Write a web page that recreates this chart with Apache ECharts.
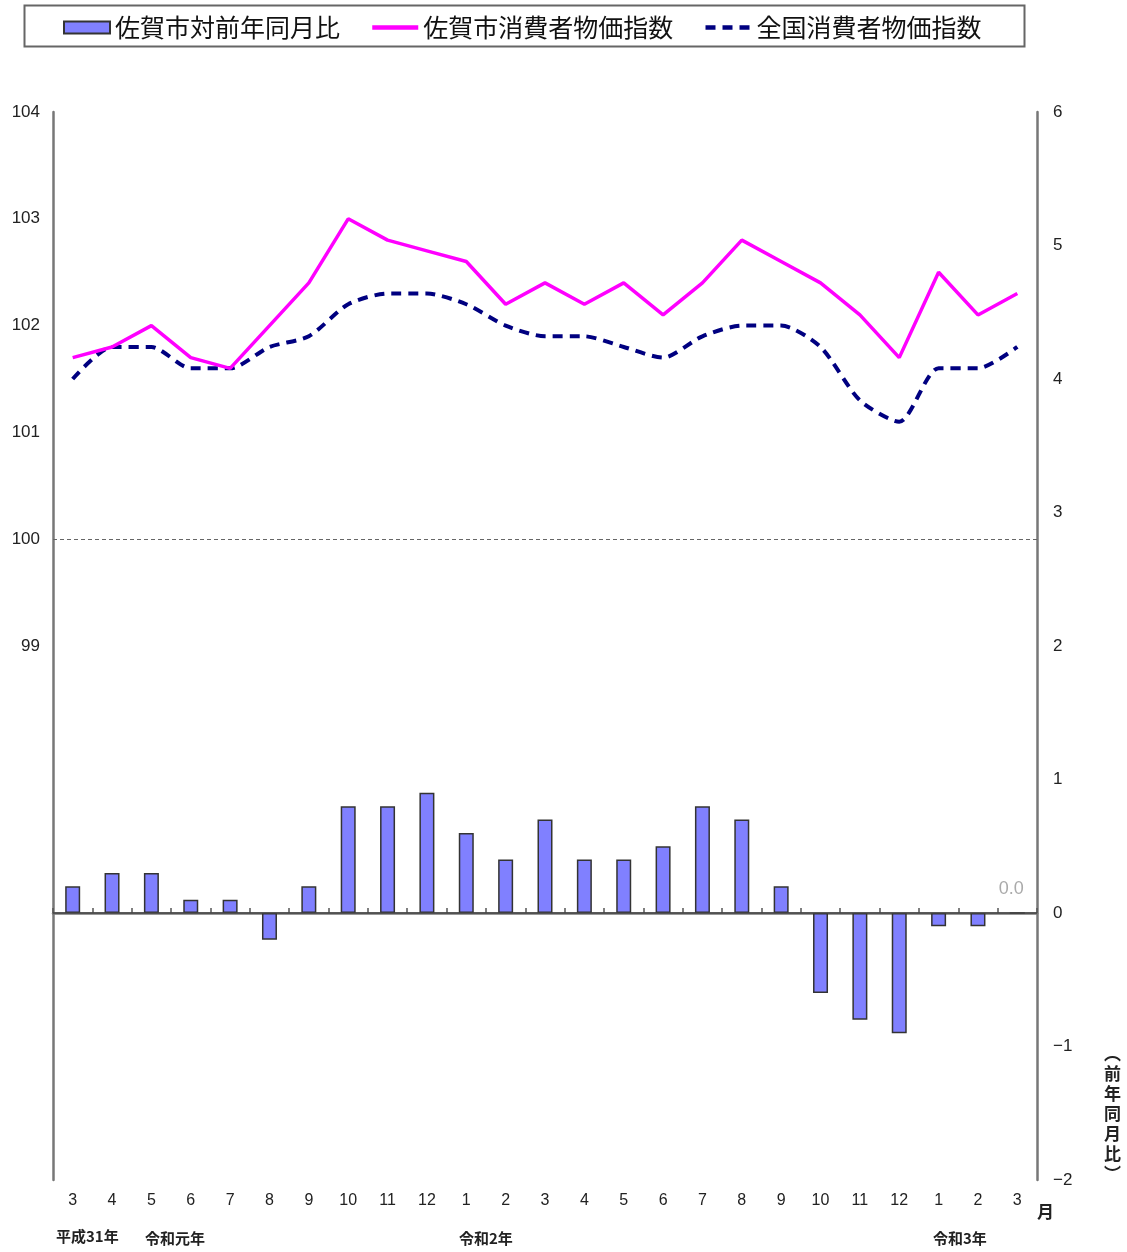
<!DOCTYPE html>
<html>
<head>
<meta charset="utf-8">
<script src="https://cdn.jsdelivr.net/npm/echarts@6/dist/echarts.min.js"></script>
<style>
html,body{margin:0;padding:0;background:#fff;}
#chart{width:1127px;height:1252px;}
</style>
</head>
<body>
<div id="chart"></div>
<script>
const months = ['3','4','5','6','7','8','9','10','11','12','1','2','3','4','5','6','7','8','9','10','11','12','1','2','3'];
const sagaYoY = [0.2,0.3,0.3,0.1,0.1,-0.2,0.2,0.8,0.8,0.9,0.6,0.4,0.7,0.4,0.4,0.5,0.8,0.7,0.2,-0.6,-0.8,-0.9,-0.1,-0.1,0.0];
const sagaCPI = [101.7,101.8,102.0,101.7,101.6,102.0,102.4,103.0,102.8,102.7,102.6,102.2,102.4,102.2,102.4,102.1,102.4,102.8,102.6,102.4,102.1,101.7,102.5,102.1,102.3];
const nationalCPI = [101.5,101.8,101.8,101.6,101.6,101.8,101.9,102.2,102.3,102.3,102.2,102.0,101.9,101.9,101.8,101.7,101.9,102.0,102.0,101.8,101.3,101.1,101.6,101.6,101.8];
const seriesNames = ['佐賀市対前年同月比','佐賀市消費者物価指数','全国消費者物価指数'];
const eraLabels = ['平成31年','令和元年','令和2年','令和3年'];

const FONT = '"Noto Sans CJK JP", "Noto Sans", sans-serif';
const NUMFONT = 'Arial, "Liberation Sans", sans-serif';
const chart = echarts.init(document.getElementById('chart'));

const barData = sagaYoY.map((v, i) => i === sagaYoY.length - 1
  ? {value: v, label: {show: true, position: 'top', distance: 14, offset: [-6, 0], formatter: p => p.value.toFixed(1), color: '#aaa', fontSize: 18, fontFamily: NUMFONT}}
  : v);

chart.setOption({
  animation: false,
  backgroundColor: '#fff',
  textStyle: {fontFamily: FONT},
  legend: {
    left: 58, top: 10,
    itemWidth: 46, itemHeight: 12, itemGap: 30,
    textStyle: {fontSize: 25, color: '#111', fontFamily: FONT},
    data: [
      {name: seriesNames[0], icon: 'rect'},
      {name: seriesNames[1], itemStyle: {opacity: 0}, lineStyle: {width: 4.5}},
      {name: seriesNames[2], itemStyle: {opacity: 0}, lineStyle: {width: 4.5}}
    ]
  },
  grid: {left: 53, right: 90, top: 112, bottom: 72},
  xAxis: {
    type: 'category',
    data: months,
    boundaryGap: true,
    axisLine: {lineStyle: {color: '#777', width: 2.5}},
    axisTick: {show: true, inside: true, length: 5, alignWithLabel: false, lineStyle: {color: '#555', width: 1.5}},
    axisLabel: {color: '#222', fontSize: 16, margin: 13, fontFamily: NUMFONT},
    splitLine: {show: false}
  },
  yAxis: [
    {
      type: 'value', min: 94, max: 104, interval: 1, position: 'left',
      axisLine: {show: true, lineStyle: {color: '#777', width: 2.5}},
      axisTick: {show: false},
      splitLine: {show: false},
      axisLabel: {color: '#222', fontSize: 17, margin: 13, fontFamily: NUMFONT,
        formatter: v => v >= 99 ? String(v) : ''}
    },
    {
      type: 'value', min: -2, max: 6, interval: 1, position: 'right',
      axisLine: {show: true, lineStyle: {color: '#777', width: 2.5}},
      axisTick: {show: false},
      splitLine: {show: false},
      axisLabel: {color: '#222', fontSize: 17, margin: 16, fontFamily: NUMFONT,
        formatter: v => String(v).replace('-', '−')}
    }
  ],
  series: [
    {
      name: seriesNames[0], type: 'bar', yAxisIndex: 1,
      data: barData, barWidth: 15,
      itemStyle: {color: '#8080ff', borderColor: '#333', borderWidth: 1.5},
      markLine: {
        silent: true, symbol: 'none', label: {show: false},
        lineStyle: {color: '#444', width: 1.5, type: 'solid'},
        data: [{yAxis: 0}]
      },
      z: 2
    },
    {
      name: seriesNames[1], type: 'line', yAxisIndex: 0,
      data: sagaCPI, symbol: 'none',
      lineStyle: {color: '#ff00ff', width: 3.5},
      itemStyle: {color: '#ff00ff'},
      markLine: {
        silent: true, symbol: 'none', label: {show: false},
        lineStyle: {color: '#666', width: 1.2, type: [4, 3]},
        data: [{yAxis: 100}]
      },
      z: 4
    },
    {
      name: seriesNames[2], type: 'line', yAxisIndex: 0,
      data: nationalCPI, symbol: 'none', smooth: 0.25,
      lineStyle: {color: '#000080', width: 4, type: [10, 7]},
      itemStyle: {color: '#000080'},
      z: 3
    }
  ],
  graphic: [
    {type: 'rect', left: 22, top: 3, shape: {width: 1000, height: 41},
      style: {fill: 'none', stroke: '#666', lineWidth: 2}, z: 100},
    {type: 'text', left: 56, top: 1229, style: {text: eraLabels[0], fontSize: 15, fontWeight: 'bold', fill: '#222', fontFamily: FONT}},
    {type: 'text', left: 145, top: 1231, style: {text: eraLabels[1], fontSize: 15, fontWeight: 'bold', fill: '#222', fontFamily: FONT}},
    {type: 'text', left: 459, top: 1231, style: {text: eraLabels[2], fontSize: 15, fontWeight: 'bold', fill: '#222', fontFamily: FONT}},
    {type: 'text', left: 933, top: 1231, style: {text: eraLabels[3], fontSize: 15, fontWeight: 'bold', fill: '#222', fontFamily: FONT}},
    {type: 'text', left: 1037, top: 1203, style: {text: '月', fontSize: 17, fontWeight: 'bold', fill: '#222', fontFamily: FONT}},
    {type: 'text', left: 1104, top: 1044, style: {text: '︵\n前\n年\n同\n月\n比\n︶', fontSize: 17, lineHeight: 20, fontWeight: 'bold', fill: '#222', fontFamily: FONT, align: 'left'}}
  ]
});
</script>
</body>
</html>
